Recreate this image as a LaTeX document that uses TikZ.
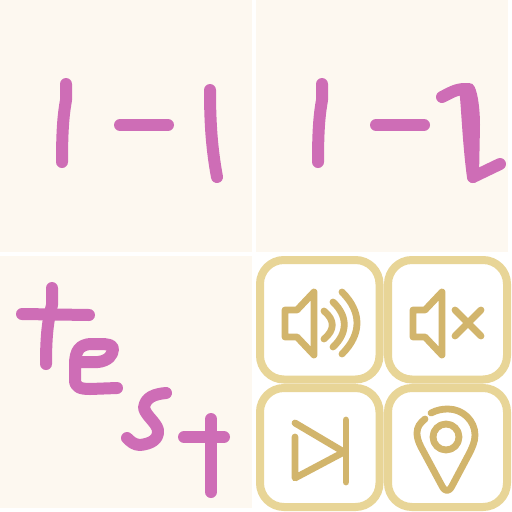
\documentclass[tikz,border=0pt]{standalone}
\usepackage{xcolor}
\usepackage{tikz}
\definecolor{panelbg}{HTML}{FDF8F0}
\definecolor{inkpink}{HTML}{CE6DB6}
\definecolor{tileedge}{HTML}{E8D597}
\definecolor{icongold}{HTML}{D2B56C}
\tikzset{
  panel/.style={fill=panelbg,draw=none},
  ink/.style={draw=inkpink,line width=12pt,line cap=round,line join=round},
  tile/.style={draw=tileedge,fill=white,line width=8pt,rounded corners=24pt},
  icon/.style={draw=icongold,line width=6.8pt,line cap=round,line join=round}
}
\begin{document}
\begin{tikzpicture}[x=1pt,y=-1pt]
  \useasboundingbox (0,0) rectangle (512,512);
  \fill[white] (0,0) rectangle (512,512);
  % panels
  \fill[panel] (0,0) rectangle (252,252);
  \fill[panel] (256,0) rectangle (508,252);
  \fill[panel] (0,256) rectangle (252,508);
  % 1-1
  \draw[ink] (66,84) -- (66,100) .. controls (64,112) and (62,125) .. (62,162);
  \draw[ink] (120,125) -- (168,125);
  \draw[ink] (210,90) .. controls (210,125) and (212,150) .. (217,177);
  % 1-2
  \draw[ink] (322,84) -- (322,100) .. controls (320,112) and (318,125) .. (318,162);
  \draw[ink] (376,125) -- (424,125);
  \draw[ink] (442,97) .. controls (450,93) and (456,89) .. (465,89)
    .. controls (467,100) and (468,140) .. (473,177) -- (500,164);
  \draw[ink] (465,89) -- (469,89) .. controls (472,95) and (474,110) .. (474,125) -- (473,177);
  % test
  \draw[ink] (52,288) -- (52,305) .. controls (48,320) and (46,335) .. (46,364);
  \draw[ink] (22,314) -- (89,315);
  \draw[ink] (78,362) -- (98,362) .. controls (108,361) and (113,355) .. (113,349)
    .. controls (113,345) and (108,344) .. (100,344) -- (90,344)
    .. controls (80,345) and (75,350) .. (75,365) -- (75,380)
    .. controls (75,387) and (80,389) .. (90,389) -- (117,388);
  \draw[ink] (166,393) .. controls (155,394) and (145,397) .. (144,408)
    .. controls (146,416) and (156,422) .. (158,430)
    .. controls (159,440) and (150,444) .. (140,445)
    .. controls (134,445) and (130,441) .. (127,438);
  \draw[ink] (184,437) -- (224,437);
  \draw[ink] (211,419) -- (211,492);
  % tiles
  \draw[tile] (260,260) rectangle (379.5,379.5);
  \draw[tile] (388,260) rectangle (507,379.5);
  \draw[tile] (260,388) rectangle (379.5,507);
  \draw[tile] (388,388) rectangle (507,507);
  % sound on
  \draw[icon] (285,310) -- (297,310) -- (314,292) -- (314,355) -- (297,337) -- (285,337) -- cycle;
  \draw[icon] (324,311) .. controls (335,320) and (335,330) .. (324,339);
  \draw[icon] (333,302) .. controls (348,316) and (348,333) .. (333,347);
  \draw[icon] (342,292) .. controls (362,312) and (362,334) .. (342,354);
  % sound off
  \draw[icon] (413,310) -- (425,310) -- (442,292) -- (442,355) -- (425,337) -- (413,337) -- cycle;
  \draw[icon] (455,310) -- (481,336);
  \draw[icon] (481,310) -- (455,336);
  % next
  \draw[icon] (295,423) -- (344,452) -- (295,478) -- (295,437);
  \draw[icon] (346,420) -- (346,482);
  % location
  \draw[icon] (431,413) .. controls (437,410) and (442,409) .. (448,409)
    .. controls (463,409) and (475,421) .. (475,435)
    .. controls (475,442) and (472,448) .. (469,454)
    -- (452,486) .. controls (449,492) and (445,492) .. (442,486)
    -- (421,447) .. controls (418,441) and (417,437) .. (417,433)
    .. controls (417,427) and (420,423) .. (425,419);
  \draw[icon] (446,437) circle (13pt);
\end{tikzpicture}
\end{document}
